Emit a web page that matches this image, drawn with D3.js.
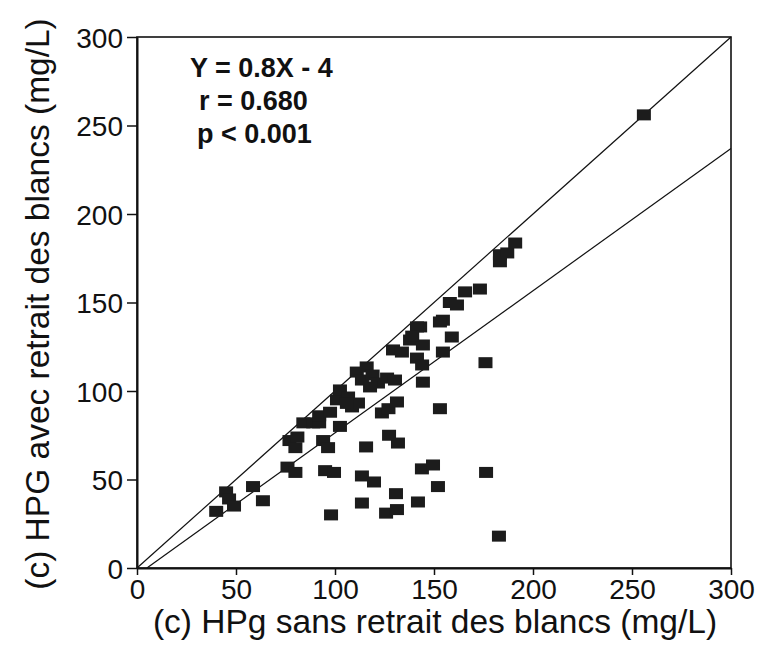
<!DOCTYPE html>
<html>
<head>
<meta charset="utf-8">
<script src="https://cdnjs.cloudflare.com/ajax/libs/d3/7.8.5/d3.min.js"></script>
<style>
html,body{margin:0;padding:0;background:#fff;}
svg{display:block;}
</style>
</head>
<body>
<svg id="chart" width="762" height="656"></svg>
<script>
// ---- data ----
const xValues = [40,45,46.5,49,58.6,63.6,76,80,77,81,80,84,89,92,94,96.5,92,97.5,102.5,101,102.5,106.6,108.6,111.6,106,95,99.5,98,111,116,113.6,119,121.7,126.3,130.3,117.7,113.6,119.7,115.7,113.6,123.7,127,131.3,127.3,131.8,125.8,131.3,130.8,141.9,143.9,149.5,152,153,144.4,129.3,133.8,137.9,143,144.4,141.4,144,141.4,139,154.5,153,158,161.6,159,154.5,165.7,173.2,176,176.3,182.8,183.3,187,183.3,191,256];
const yValues = [32,43,39,35,46,38,57,54,72,74,68,82,82,82,72,68,86,88,80,95,100.6,96.6,91,93.2,93,55,54,30,110.7,113.6,106.2,109,104.5,107.3,106.2,102.3,52,48.6,68.4,36.7,87.6,90,93.8,75,70.6,31,33,42,37.3,56,58.2,46,90,105,123.2,122,128.8,136.2,126,118.6,114.7,136.2,131,140,139,150,148.6,130.5,122,156,157.6,116,54,18,177,178,173,183.6,256];
const xTicks = [0,50,100,150,200,250,300];
const yTicks = [0,50,100,150,200,250,300];
const identityLine = [[0,0],[300,300]];
const fitLine = [[5,0],[300,237]];
const annotations = ["Y = 0.8X - 4", "r = 0.680", "p < 0.001"];
const xLabel = "(c) HPg sans retrait des blancs (mg/L)";
const yLabel = "(c) HPG avec retrait des blancs (mg/L)";

// ---- layout ----
const svg = d3.select("#chart");
const x = d3.scaleLinear().domain([0,300]).range([137,731]);
const y = d3.scaleLinear().domain([0,300]).range([568,37]);
const font = "'Liberation Sans', Arial, Helvetica, sans-serif";

// frame
svg.append("rect")
  .attr("x", x(0)).attr("y", y(300))
  .attr("width", x(300)-x(0)).attr("height", y(0)-y(300))
  .attr("fill","none").attr("stroke","#111").attr("stroke-width",1.6);

// lines
const line = d3.line().x(d=>x(d[0])).y(d=>y(d[1]));
[identityLine, fitLine].forEach(l=>{
  svg.append("path").attr("d", line(l)).attr("fill","none")
    .attr("stroke","#111").attr("stroke-width",1.2);
});

// points
const pts = xValues.map((v,i)=>[v,yValues[i]]);
const w = 14, h = 11;
svg.append("g").selectAll("rect").data(pts).join("rect")
  .attr("x", d=>x(d[0])-w/2).attr("y", d=>y(d[1])-h/2)
  .attr("width", w).attr("height", h)
  .attr("fill","#1c1c1c");

// axes
const xAxis = svg.append("g").attr("transform",`translate(0,${y(0)})`)
  .call(d3.axisBottom(x).tickValues(xTicks).tickSize(7).tickPadding(4).tickSizeOuter(0));
const yAxis = svg.append("g").attr("transform",`translate(${x(0)},0)`)
  .call(d3.axisLeft(y).tickValues(yTicks).tickSize(10).tickPadding(4).tickSizeOuter(0));
[xAxis,yAxis].forEach(a=>{
  a.select(".domain").attr("stroke","#111").attr("stroke-width",2);
  a.selectAll(".tick line").attr("stroke","#111").attr("stroke-width",1.5);
  a.selectAll(".tick text").attr("fill","#111")
    .style("font-family", font).style("font-size","28px");
});
yAxis.selectAll(".tick text").attr("dy","0.36em");
xAxis.selectAll(".tick text").attr("dy","0.72em");

// axis labels
svg.append("text").attr("x", 435).attr("y", 633)
  .attr("text-anchor","middle").attr("fill","#111")
  .style("font-family", font).style("font-size","33.5px").text(xLabel);
svg.append("text").attr("transform","translate(49,304) rotate(-90)")
  .attr("text-anchor","middle").attr("fill","#111")
  .style("font-family", font).style("font-size","33.5px").text(yLabel);

// annotation
const annX = [190,199,197];
const annY = [77,110,143];
svg.append("g").selectAll("text").data(annotations).join("text")
  .attr("x",(d,i)=>annX[i]).attr("y",(d,i)=>annY[i])
  .attr("fill","#111").style("font-family", font)
  .style("font-weight","bold").style("font-size","27px")
  .text(d=>d);
</script>
</body>
</html>
